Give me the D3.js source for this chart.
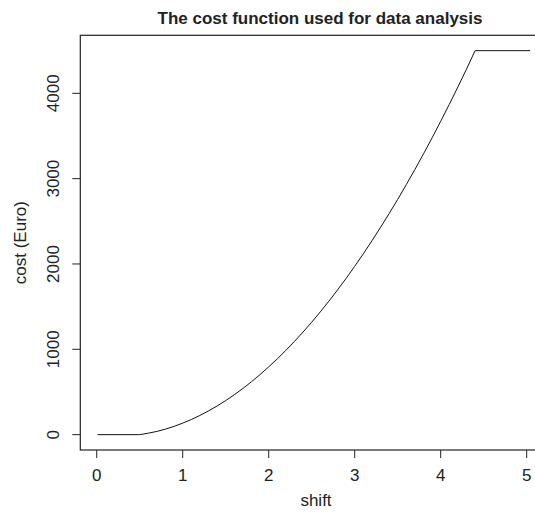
<!DOCTYPE html>
<html>
<head>
  <meta charset="utf-8">
  <script src="https://cdn.jsdelivr.net/npm/d3@7"></script>
  <style>
    body { margin: 0; background: #fff; }
    text { font-family: "Liberation Sans", Arial, sans-serif; fill: #222; }
  </style>
</head>
<body>
<script>
// values
var shift = [0.01, 0.5, 0.6, 0.7, 0.8, 0.9, 1.0, 1.1, 1.2, 1.3, 1.4, 1.5, 1.6, 1.7, 1.8, 1.9,
             2.0, 2.1, 2.2, 2.3, 2.4, 2.5, 2.6, 2.7, 2.8, 2.9, 3.0, 3.1, 3.2, 3.3, 3.4,
             3.5, 3.6, 3.7, 3.8, 3.9, 4.0, 4.1, 4.2, 4.3, 4.4, 5.04];
var cost = [0, 0, 17, 38, 65, 97, 135, 177, 225, 278, 336, 399, 468, 541, 620, 704,
            794, 888, 988, 1093, 1203, 1318, 1439, 1564, 1695, 1831, 1973, 2119, 2271, 2428, 2590,
            2757, 2930, 3107, 3290, 3478, 3672, 3870, 4074, 4283, 4500, 4500];
var xTicks = [0, 1, 2, 3, 4, 5];
var yTicks = [0, 1000, 2000, 3000, 4000];

var W = 535, H = 513;
var box = {left: 80.3, right: 547.4, top: 35.3, bottom: 450};

var svg = d3.select("body").append("svg")
    .attr("width", W).attr("height", H);

// R style 4% padding around the data range
var x = d3.scaleLinear().domain([-0.191, 5.241]).range([box.left, box.right]);
var y = d3.scaleLinear().domain([-180, 4680]).range([box.bottom, box.top]);

svg.append("rect")
    .attr("x", box.left).attr("y", box.top)
    .attr("width", box.right - box.left).attr("height", box.bottom - box.top)
    .attr("fill", "none").attr("stroke", "#222").attr("stroke-width", 1.2);

var line = d3.line().x(function(d, i) { return x(shift[i]); }).y(function(d) { return y(d); });
svg.append("path")
    .datum(cost)
    .attr("d", line)
    .attr("fill", "none")
    .attr("stroke", "#111")
    .attr("stroke-width", 1);

// x axis: ticks below the box
var gx = svg.append("g");
gx.selectAll("line").data(xTicks).enter().append("line")
    .attr("x1", x).attr("x2", x)
    .attr("y1", box.bottom).attr("y2", box.bottom + 8)
    .attr("stroke", "#222");
gx.selectAll("text").data(xTicks).enter().append("text")
    .attr("x", x).attr("y", 481)
    .attr("text-anchor", "middle")
    .style("font-size", "17px")
    .text(function(d) { return d; });

// y axis: rotated labels like R's default las=0
var gy = svg.append("g");
gy.selectAll("line").data(yTicks).enter().append("line")
    .attr("x1", box.left - 8).attr("x2", box.left)
    .attr("y1", y).attr("y2", y)
    .attr("stroke", "#222");
gy.selectAll("text").data(yTicks).enter().append("text")
    .attr("transform", function(d) { return "translate(59," + y(d) + ") rotate(-90)"; })
    .attr("text-anchor", "middle")
    .style("font-size", "17px")
    .text(function(d) { return d; });

svg.append("text")
    .attr("x", 316).attr("y", 506)
    .attr("text-anchor", "middle")
    .style("font-size", "17px")
    .text("shift");

svg.append("text")
    .attr("transform", "translate(26," + (box.top + box.bottom) / 2 + ") rotate(-90)")
    .attr("text-anchor", "middle")
    .style("font-size", "17px")
    .text("cost (Euro)");

svg.append("text")
    .attr("x", 320).attr("y", 24)
    .attr("text-anchor", "middle")
    .style("font-size", "17px")
    .style("font-weight", "bold")
    .text("The cost function used for data analysis");
</script>
</body>
</html>
